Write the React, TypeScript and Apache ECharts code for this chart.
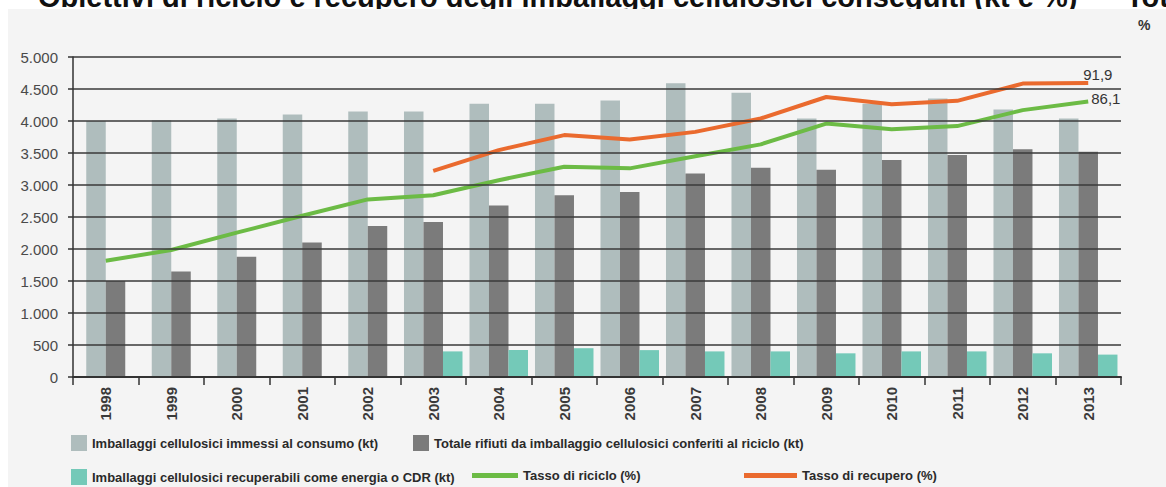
import React, { useEffect, useRef } from "react";
import * as echarts from "echarts";

const TITLE = "Obiettivi di riciclo e recupero degli imballaggi cellulosici conseguiti (kt e %)";
const TITLE_NEXT = "Tot";
const years = ["1998", "1999", "2000", "2001", "2002", "2003", "2004", "2005", "2006", "2007", "2008", "2009", "2010", "2011", "2012", "2013"];
const immessi = [4000, 4010, 4040, 4100, 4150, 4150, 4270, 4270, 4320, 4590, 4440, 4040, 4270, 4350, 4180, 4040];
const conferiti = [1500, 1650, 1880, 2100, 2360, 2420, 2680, 2840, 2890, 3180, 3270, 3240, 3390, 3470, 3560, 3520];
const recuperabili: (number | null)[] = [null, null, null, null, null, 400, 420, 450, 420, 400, 400, 370, 400, 400, 370, 350];
const riciclo = [36.3, 39.7, 45.1, 50.4, 55.5, 56.8, 61.5, 65.7, 65.2, 69.0, 72.7, 79.2, 77.4, 78.4, 83.4, 86.1];
const recupero: (number | null)[] = [null, null, null, null, null, 64.4, 70.9, 75.6, 74.2, 76.6, 80.8, 87.5, 85.2, 86.3, 91.7, 91.9];
const leftTicks = { min: 0, max: 5000, interval: 500 };
const rightTicks = { min: 0, max: 100, interval: 10 };

const N_IMM = "Imballaggi cellulosici immessi al consumo (kt)";
const N_CONF = "Totale rifiuti da imballaggio cellulosici conferiti al riciclo (kt)";
const N_REC = "Imballaggi cellulosici recuperabili come energia o CDR (kt)";
const N_RIC = "Tasso di riciclo (%)";
const N_RECU = "Tasso di recupero (%)";

const C_IMM = "#afbdbd";
const C_CONF = "#7b7b7b";
const C_REC = "#74c9b8";
const C_RIC = "#6cbb45";
const C_RECU = "#ea6a2e";

const FONT = "'Liberation Sans Narrow', 'Arial Narrow', 'Liberation Sans', Arial, sans-serif";

const fmtK = (v: number) => String(v).replace(/\B(?=(\d{3})+(?!\d))/g, ".");
const fmtDec = (v: number) => String(v).replace(".", ",");

export default function App() {
  const ref = useRef<HTMLDivElement>(null);
  useEffect(() => {
    if (!ref.current) return;
    const chart = echarts.init(ref.current, undefined, { renderer: "svg" });
    const has3 = recuperabili.map((v) => v !== null);
    const BW = 19.5;
    const lastIdx = years.length - 1;

    const barBase = { type: "bar", barWidth: BW, barGap: "0%", z: 2 };

    const lineLabelData = (arr: (number | null)[], offset: number[]) =>
      arr.map((v, i) =>
        i === lastIdx && v !== null
          ? {
              value: v,
              label: {
                show: true,
                position: "right",
                offset,
                formatter: () => fmtDec(v),
                color: "#333",
                fontSize: 15,
                fontFamily: FONT,
              },
            }
          : v
      );

    const legendBase = {
      padding: 0,
      itemGap: 0,
      textStyle: { fontFamily: FONT, fontSize: 13, fontWeight: "bold", color: "#2a2a2a" },
      selectedMode: false,
    };

    const titleFont = "bold 29px 'Liberation Sans', Arial, sans-serif";

    chart.setOption({
      animation: false,
      backgroundColor: "#ffffff",
      textStyle: { fontFamily: FONT },
      graphic: {
        elements: [
          {
            type: "text",
            x: 38,
            y: 11,
            z: 1,
            style: { text: TITLE, font: titleFont, fill: "#111", verticalAlign: "bottom" },
          },
          {
            type: "text",
            x: 1126,
            y: 11,
            z: 1,
            style: { text: TITLE_NEXT, font: titleFont, fill: "#111", verticalAlign: "bottom" },
          },
          {
            type: "rect",
            z: 2,
            shape: { x: 8, y: 9, width: 1158, height: 478 },
            style: { fill: "#f4f4f4" },
            silent: true,
          },
          {
            type: "text",
            x: 1138,
            y: 18,
            z: 3,
            style: { text: "%", font: `bold 14px ${FONT}`, fill: "#333" },
          },
        ],
      },
      legend: [
        { ...legendBase, left: 71, top: 435, itemWidth: 16, itemHeight: 16, data: [{ name: N_IMM, icon: "rect" }] },
        { ...legendBase, left: 413, top: 435, itemWidth: 16, itemHeight: 16, data: [{ name: N_CONF, icon: "rect" }] },
        { ...legendBase, left: 71, top: 469, itemWidth: 16, itemHeight: 16, data: [{ name: N_REC, icon: "rect" }] },
        { ...legendBase, left: 472, top: 469, itemWidth: 46, itemHeight: 5, data: [{ name: N_RIC, icon: "rect" }] },
        { ...legendBase, left: 744, top: 469, itemWidth: 53, itemHeight: 5, data: [{ name: N_RECU, icon: "rect" }] },
      ],
      grid: { left: 73, right: 43, top: 57, bottom: 110, containLabel: false },
      xAxis: [
        {
          type: "category",
          data: years,
          axisLine: { lineStyle: { color: "#333", width: 2 } },
          axisTick: { show: true, length: 8, interval: 0, lineStyle: { color: "#333", width: 1.5 } },
          axisLabel: {
            rotate: 90,
            interval: 0,
            margin: 10,
            fontSize: 15,
            fontWeight: "bold",
            color: "#3a3a3a",
            fontFamily: FONT,
          },
          z: 5,
        },
        { type: "category", data: years, show: false },
      ],
      yAxis: [
        {
          type: "value",
          ...leftTicks,
          axisLine: { show: true, lineStyle: { color: "#333", width: 1.5 } },
          axisTick: { show: true, length: 5, lineStyle: { color: "#333", width: 1.5 } },
          axisLabel: { formatter: fmtK, margin: 15, fontSize: 15, color: "#4a4a4a", fontFamily: FONT },
          splitLine: { show: true, lineStyle: { color: "#3a3a3a", width: 1.5 } },
          z: 5,
        },
        {
          type: "value",
          position: "right",
          ...rightTicks,
          axisLine: { show: true, lineStyle: { color: "#333", width: 1.5 } },
          axisTick: { show: false },
          axisLabel: { margin: 17, fontSize: 15, color: "#4a4a4a", fontFamily: FONT },
          splitLine: { show: false },
        },
      ],
      series: [
        { ...barBase, name: N_IMM, xAxisIndex: 0, data: immessi.map((v, i) => (has3[i] ? v : null)), itemStyle: { color: C_IMM } },
        { ...barBase, name: N_CONF, xAxisIndex: 0, data: conferiti.map((v, i) => (has3[i] ? v : null)), itemStyle: { color: C_CONF } },
        { ...barBase, name: N_REC, xAxisIndex: 0, data: recuperabili, itemStyle: { color: C_REC } },
        { ...barBase, name: N_IMM, xAxisIndex: 1, data: immessi.map((v, i) => (has3[i] ? null : v)), itemStyle: { color: C_IMM } },
        { ...barBase, name: N_CONF, xAxisIndex: 1, data: conferiti.map((v, i) => (has3[i] ? null : v)), itemStyle: { color: C_CONF } },
        {
          type: "line",
          name: N_RIC,
          yAxisIndex: 1,
          data: lineLabelData(riciclo, [-2, -3]),
          symbol: "circle",
          symbolSize: 0,
          showSymbol: true,
          lineStyle: { width: 4, color: C_RIC },
          itemStyle: { color: C_RIC },
          z: 4,
        },
        {
          type: "line",
          name: N_RECU,
          yAxisIndex: 1,
          data: lineLabelData(recupero, [-10, -8]),
          symbol: "circle",
          symbolSize: 0,
          showSymbol: true,
          lineStyle: { width: 4, color: C_RECU },
          itemStyle: { color: C_RECU },
          z: 4,
        },
      ],
    });
    return () => chart.dispose();
  }, []);

  return (
    <div
      ref={ref}
      style={{ position: "absolute", left: 0, top: 0, width: 1166, height: 487 }}
    />
  );
}
